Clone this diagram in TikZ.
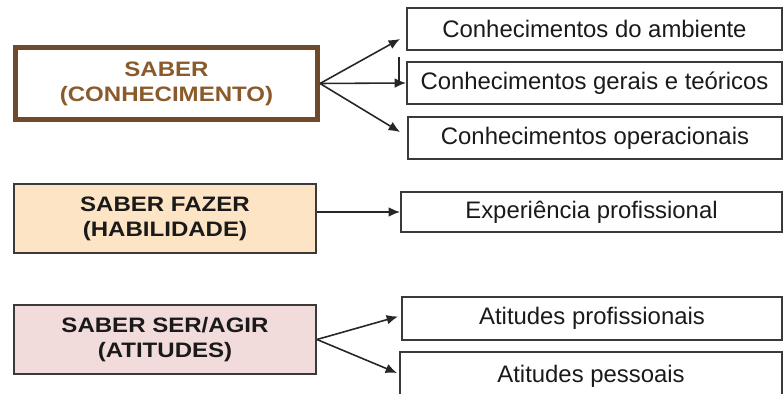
\documentclass[tikz,border=0pt]{standalone}
\usepackage{fontspec}
\setmainfont{Liberation Sans}
\newfontfamily\capsfont[FakeStretch=1.15]{Liberation Sans}
\usetikzlibrary{arrows.meta,calc}
\definecolor{saberline}{HTML}{70482A}
\definecolor{sabertext}{HTML}{8B5A2B}
\definecolor{fazerfill}{HTML}{FCE4C4}
\definecolor{serfill}{HTML}{F2DCDB}
\definecolor{linegray}{HTML}{3A3A3A}
\definecolor{textdark}{HTML}{1A1A1A}
\tikzset{
  >=Latex,
  bigbox/.style={
    rectangle, draw=linegray, line width=1.1pt, inner sep=0pt,
    minimum width=6.04cm, minimum height=1.38cm, align=center,
    font=\capsfont\bfseries\fontsize{11.9}{14.2}\selectfont, text=textdark
  },
  item/.style={
    rectangle, draw=linegray, line width=1.1pt, inner sep=0pt,
    minimum height=0.84cm, align=center,
    font=\fontsize{13.6}{16}\selectfont, text=textdark
  },
  arrow/.style={-{Latex[length=6.5pt,width=5.5pt]}, line width=0.9pt, draw=black!85}
}

\begin{document}
\begin{tikzpicture}[x=0.02cm, y=-0.02cm]
\useasboundingbox (0,0) rectangle (784,394);
\clip (0,0) rectangle (784,394);
% left column
\node[bigbox, draw=saberline, line width=2.6pt, minimum width=6.05cm, minimum height=1.45cm, text=sabertext] (saber) at (166.5,83.5) {SABER\\(CONHECIMENTO)};
\node[bigbox, fill=fazerfill] (fazer) at (165,218.5) {SABER FAZER\\(HABILIDADE)};
\node[bigbox, fill=serfill] (ser) at (165,339.5) {SABER SER/AGIR\\(ATITUDES)};
% right column
\node[item, minimum width=7.50cm] (amb) at (594.5,29) {Conhecimentos do ambiente};
\node[item, minimum width=7.50cm] (ger) at (594.5,83) {Conhecimentos gerais e teóricos};
\node[item, minimum width=7.48cm] (ope) at (595,138) {Conhecimentos operacionais};
\node[item, minimum width=7.62cm, minimum height=0.80cm] (exp) at (591.5,212) {Experiência profissional};
\node[item, minimum width=7.60cm, minimum height=0.86cm] (apro) at (592,318.5) {Atitudes profissionais};
\node[item, minimum width=7.64cm, minimum height=0.96cm] (apes) at (591,376) {Atitudes pessoais};
% connectors
\draw[arrow] (saber.east) -- ($(amb.south west)+(-6,-12)$);
\draw[arrow] (saber.east) -- (ger.west);
\draw[arrow] (saber.east) -- ($(ope.north west)+(-7,16)$);
\draw[line width=1.4pt, black!85] ($(ger.west)+(-7,-26)$) -- ($(ger.west)+(-7,-2)$);
\draw[arrow] (fazer.east |- exp.west) -- (exp.west);
\draw[arrow] (ser.east) -- ($(apro.west)+(-3,-2)$);
\draw[arrow] (ser.east) -- ($(apes.west)+(-2,-3)$);
\end{tikzpicture}
\end{document}
